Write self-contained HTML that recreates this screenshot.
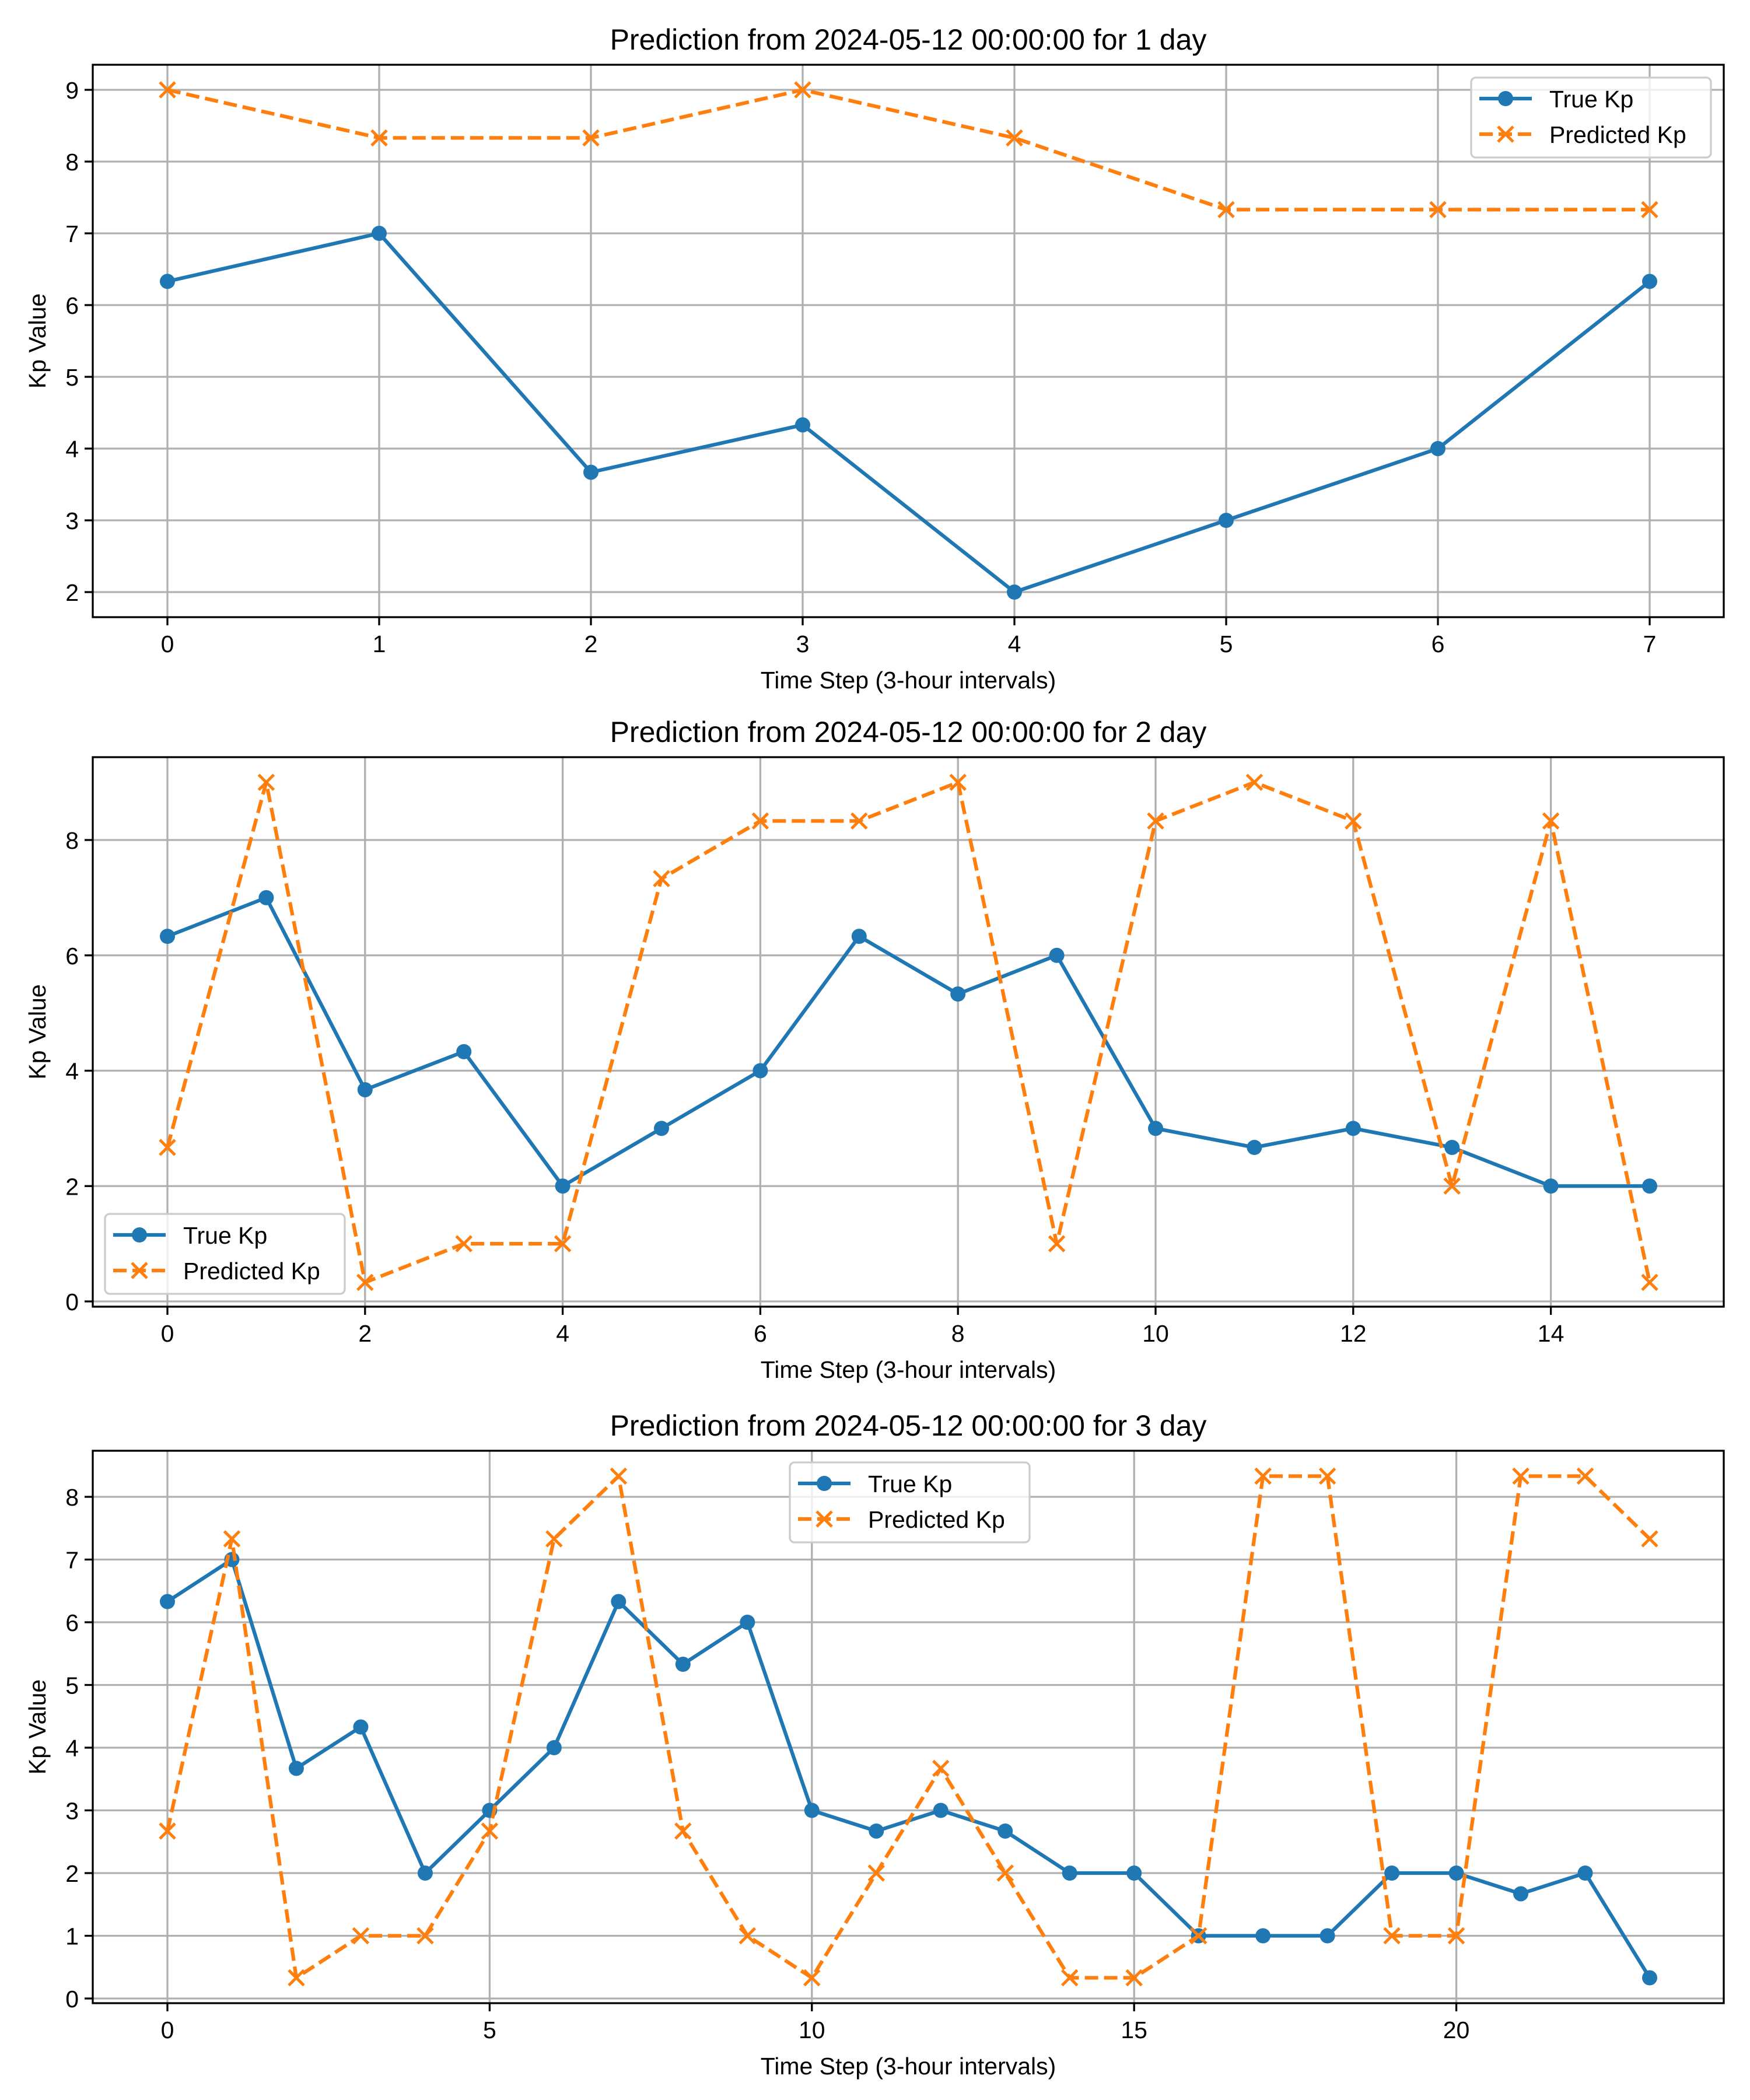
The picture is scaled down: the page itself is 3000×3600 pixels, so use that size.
<!DOCTYPE html>
<html><head><meta charset="utf-8"><style>
body{margin:0;background:#fff}
svg{display:block;font-family:"Liberation Sans","DejaVu Sans",sans-serif}
</style></head><body>
<svg id="fig" width="3000" height="3600" viewBox="0 0 3000 3600" xmlns="http://www.w3.org/2000/svg">
<rect width="3000" height="3600" fill="#fff"/>
</svg>
<script>
const trueDay1 = [6.33,7,3.67,4.33,2,3,4,6.33];
const predDay1 = [9,8.33,8.33,9,8.33,7.33,7.33,7.33];
const trueDay2 = [6.33,7,3.67,4.33,2,3,4,6.33,5.33,6,3,2.67,3,2.67,2,2];
const predDay2 = [2.67,9,0.33,1,1,7.33,8.33,8.33,9,1,8.33,9,8.33,2,8.33,0.33];
const trueDay3 = [6.33,7,3.67,4.33,2,3,4,6.33,5.33,6,3,2.67,3,2.67,2,2,1,1,1,2,2,1.67,2,0.33];
const predDay3 = [2.67,7.33,0.33,1,1,2.67,7.33,8.33,2.67,1,0.33,2,3.67,2,0.33,0.33,1,8.33,8.33,1,1,8.33,8.33,7.33];
const xTicks1 = [0,1,2,3,4,5,6,7];
const xTicks2 = [0,2,4,6,8,10,12,14];
const xTicks3 = [0,5,10,15,20];
const yTicks1 = [2,3,4,5,6,7,8,9];
const yTicks2 = [0,2,4,6,8];
const yTicks3 = [0,1,2,3,4,5,6,7,8];
const titles = ["Prediction from 2024-05-12 00:00:00 for 1 day","Prediction from 2024-05-12 00:00:00 for 2 day","Prediction from 2024-05-12 00:00:00 for 3 day"];

const NS="http://www.w3.org/2000/svg";
const fig=document.getElementById('fig');
function mk(tag,attrs,parent){const e=document.createElementNS(NS,tag);for(const k in attrs)e.setAttribute(k,attrs[k]);(parent||fig).appendChild(e);return e;}

const L=159,R=2955;
const panels=[
 {t:titles[0],tr:trueDay1,pr:predDay1,xt:xTicks1,yt:yTicks1,top:111,bot:1058,ya:154,yb:1015,yv0:9,yv1:2,leg:[2522,133]},
 {t:titles[1],tr:trueDay2,pr:predDay2,xt:xTicks2,yt:yTicks2,top:1298,bot:2240,ya:1440,yb:2231,yv0:8,yv1:0,leg:[180,2081]},
 {t:titles[2],tr:trueDay3,pr:predDay3,xt:xTicks3,yt:yTicks3,top:2487,bot:3434,ya:2566,yb:3426,yv0:8,yv1:0,leg:[1354,2507]}
];
panels.forEach((p,pi)=>{
 const g=mk('g',{});
 
 
 const n=p.tr.length-1;
 const xs=v=>287+(2828-287)*v/n;
 const ys=v=>p.ya+(p.yb-p.ya)*(v-p.yv0)/(p.yv1-p.yv0);
 p.xt.forEach(v=>{
  const l=mk('line',{x1:xs(v),x2:xs(v),y1:p.top,y2:p.bot,stroke:'#b0b0b0','stroke-width':3.3},g);
  
  mk('line',{x1:xs(v),x2:xs(v),y1:p.bot,y2:p.bot+14,stroke:'#000','stroke-width':3.3},g);
  const t=mk('text',{x:xs(v),y:p.bot+60,'font-size':41,'text-anchor':'middle'},g);t.textContent=v;
  
 });
 p.yt.forEach(v=>{
  const l=mk('line',{x1:L,x2:R,y1:ys(v),y2:ys(v),stroke:'#b0b0b0','stroke-width':3.3},g);
  
  mk('line',{x1:L-14,x2:L,y1:ys(v),y2:ys(v),stroke:'#000','stroke-width':3.3},g);
  const t=mk('text',{x:L-24,y:ys(v)+15,'font-size':41,'text-anchor':'end'},g);t.textContent=v;
  
 });
 const tp=p.tr.map((v,i)=>xs(i)+','+ys(v)).join(' ');
 const tl=mk('polyline',{points:tp,fill:'none',stroke:'#1f77b4','stroke-width':6.25,'stroke-linejoin':'round'},g);
 
 p.tr.forEach((v,i)=>{const c=mk('circle',{cx:xs(i),cy:ys(v),r:13,fill:'#1f77b4'},g);
  });
 const pp=p.pr.map((v,i)=>xs(i)+','+ys(v)).join(' ');
 const pl=mk('polyline',{points:pp,fill:'none',stroke:'#ff7f0e','stroke-width':6.25,'stroke-dasharray':'23,10','stroke-linejoin':'round'},g);
 
 p.pr.forEach((v,i)=>{const x=xs(i),y=ys(v),s=13;
  const m=mk('path',{d:`M${x-s},${y-s}L${x+s},${y+s}M${x-s},${y+s}L${x+s},${y-s}`,stroke:'#ff7f0e','stroke-width':5},g);
  });
 const fr=mk('rect',{x:L,y:p.top,width:R-L,height:p.bot-p.top,fill:'none',stroke:'#000','stroke-width':3.3},g);
 
 const tt=mk('text',{x:(L+R)/2,y:p.top-26,'font-size':50,'text-anchor':'middle'},g);tt.textContent=p.t;
 
 const xl=mk('text',{x:(L+R)/2,y:p.bot+122,'font-size':41,'text-anchor':'middle'},g);xl.textContent='Time Step (3-hour intervals)';
 
 const cy=(p.top+p.bot)/2;
 const yl=mk('text',{x:78,y:cy,'font-size':41,'text-anchor':'middle',transform:`rotate(-90 78 ${cy})`},g);yl.textContent='Kp Value';
 
 const [lx,ly]=p.leg;
 const lg=mk('g',{},g);
 
 mk('rect',{x:lx,y:ly,width:411,height:137,rx:8,fill:'#fff','fill-opacity':0.8,stroke:'#cccccc','stroke-width':3.3},lg);
 mk('line',{x1:lx+14,x2:lx+104,y1:ly+36,y2:ly+36,stroke:'#1f77b4','stroke-width':6.25},lg);
 mk('circle',{cx:lx+59,cy:ly+36,r:13,fill:'#1f77b4'},lg);
 const t1=mk('text',{x:lx+134,y:ly+51,'font-size':41},lg);t1.textContent='True Kp';
 
 mk('line',{x1:lx+14,x2:lx+104,y1:ly+97,y2:ly+97,stroke:'#ff7f0e','stroke-width':6.25,'stroke-dasharray':'23,10'},lg);
 mk('path',{d:`M${lx+46},${ly+84}L${lx+72},${ly+110}M${lx+46},${ly+110}L${lx+72},${ly+84}`,stroke:'#ff7f0e','stroke-width':5},lg);
 const t2=mk('text',{x:lx+134,y:ly+112,'font-size':41},lg);t2.textContent='Predicted Kp';
 
});
</script>
</body></html>
